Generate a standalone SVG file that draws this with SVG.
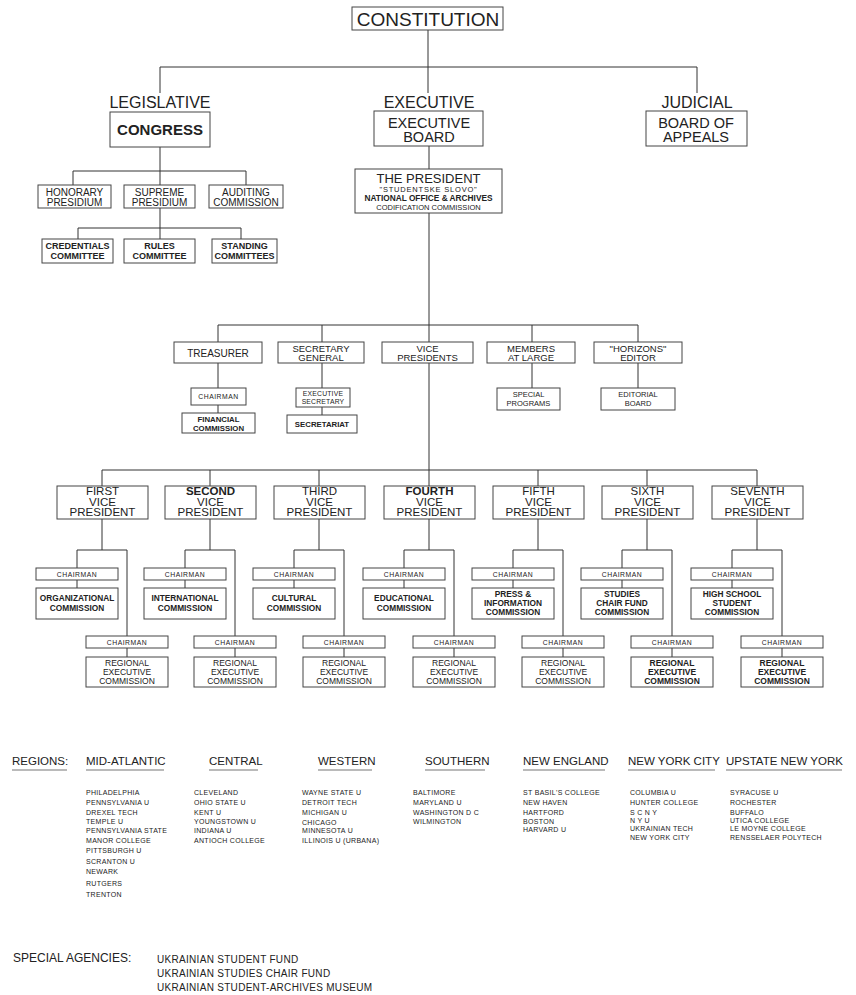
<svg xmlns="http://www.w3.org/2000/svg" width="856" height="995" viewBox="0 0 856 995">
<style>
text{font-family:"Liberation Sans",Arial,Helvetica,sans-serif;fill:#222;text-anchor:middle}
.b{fill:#fff;stroke:#444;stroke-width:1px}
.c{fill:none;stroke:#333;stroke-width:1px}
.lbl{font-size:16px}
.top{font-size:14.5px}
.m{font-size:10px}
.m2{font-size:9.5px}
.s{font-size:9px;font-weight:bold}
.ch{font-size:6.8px;letter-spacing:0.5px}
.sm{font-size:7.5px}
.smb{font-size:7.8px;font-weight:bold}
.vp{font-size:11.5px}
.cm{font-size:8.3px;font-weight:bold}
.rg{font-size:8.5px}
.hd{font-size:11.5px;text-anchor:start}
.li{font-size:7px;letter-spacing:0.3px;text-anchor:start}
.sa{font-size:10px;letter-spacing:0.3px;text-anchor:start}
.ul{stroke:#777;stroke-width:1.2px}
</style>
<rect width="856" height="995" fill="#fff"/>
<g id="connectors" class="c">
<path class="c" d="M428 30V93 M160 67H697 M160 67V93 M697 67V93
M160 147V171 M73 171H246 M73 171V185 M160 171V185 M246 171V185
M160 208V228 M78 228H241 M78 228V239 M160 228V239 M241 228V239
M429 146V169 M429 213V342 M218 325H638 M218 325V342 M322 325V342 M532 325V342 M638 325V342
M218 363V388 M218 405V413 M322 363V388 M322 407V415 M532 363V388 M638 363V388
M429 363V486 M102 470H757 M102 470V486 M210 470V486 M319 470V486 M538 470V486 M647 470V486 M757 470V486
M102 519V550 M77 550H127 M77 550V568 M77 580V588 M127 550V636 M127 648V657
M210 519V550 M185 550H235 M185 550V568 M185 580V588 M235 550V636 M235 648V657
M319 519V550 M294 550H344 M294 550V568 M294 580V588 M344 550V636 M344 648V657
M429 519V550 M404 550H454 M404 550V568 M404 580V588 M454 550V636 M454 648V657
M538 519V550 M513 550H563 M513 550V568 M513 580V588 M563 550V636 M563 648V657
M647 519V550 M622 550H672 M622 550V568 M622 580V588 M672 550V636 M672 648V657
M757 519V550 M732 550H782 M732 550V568 M732 580V588 M782 550V636 M782 648V657"/>
</g>

<g id="constitution"><rect class="b" x="352" y="7" width="151" height="23"/><text x="428" y="26" style="font-size:19px">CONSTITUTION</text></g>

<g id="legislative"><text class="lbl" x="160" y="108">LEGISLATIVE</text></g>
<g id="congress"><rect class="b" x="110" y="112" width="100" height="35"/><text x="160" y="135" style="font-size:15px;font-weight:bold">CONGRESS</text></g>
<g id="executive"><text class="lbl" x="429" y="108">EXECUTIVE</text></g>
<g id="executive-board"><rect class="b" x="374" y="111" width="109" height="35"/><text class="top" x="429" y="127.5">EXECUTIVE</text><text class="top" x="429" y="142">BOARD</text></g>
<g id="judicial"><text class="lbl" x="697" y="108">JUDICIAL</text></g>
<g id="board-of-appeals"><rect class="b" x="646" y="111" width="101" height="35"/><text class="top" x="696" y="127.5">BOARD OF</text><text class="top" x="696" y="142">APPEALS</text></g>

<g id="honorary-presidium"><rect class="b" x="38" y="185" width="73" height="23"/><text class="m" x="74.5" y="196">HONORARY</text><text class="m" x="74.5" y="206">PRESIDIUM</text></g>
<g id="supreme-presidium"><rect class="b" x="124" y="185" width="71" height="23"/><text class="m" x="159.5" y="196">SUPREME</text><text class="m" x="159.5" y="206">PRESIDIUM</text></g>
<g id="auditing-commission"><rect class="b" x="209" y="185" width="74" height="23"/><text class="m" x="246" y="196">AUDITING</text><text class="m" x="246" y="206">COMMISSION</text></g>

<g id="credentials-committee"><rect class="b" x="42" y="239" width="71" height="24"/><text class="s" x="77.5" y="249">CREDENTIALS</text><text class="s" x="77.5" y="259">COMMITTEE</text></g>
<g id="rules-committee"><rect class="b" x="124" y="239" width="71" height="24"/><text class="s" x="159.5" y="249">RULES</text><text class="s" x="159.5" y="259">COMMITTEE</text></g>
<g id="standing-committees"><rect class="b" x="212" y="239" width="65" height="24"/><text class="s" x="244.5" y="249">STANDING</text><text class="s" x="244.5" y="259">COMMITTEES</text></g>

<g id="president"><rect class="b" x="355" y="169" width="147" height="44"/>
<text x="428.5" y="183" style="font-size:13px">THE PRESIDENT</text>
<text x="428.5" y="192" style="font-size:7.5px;letter-spacing:0.8px">"STUDENTSKE SLOVO"</text>
<text x="428.5" y="201" style="font-size:8.3px;font-weight:bold">NATIONAL OFFICE &amp; ARCHIVES</text>
<text x="428.5" y="209.5" style="font-size:7.5px">CODIFICATION COMMISSION</text></g>

<g id="treasurer"><rect class="b" x="174" y="342" width="88" height="21"/><text class="m" x="218" y="357">TREASURER</text></g>
<g id="secretary-general"><rect class="b" x="278" y="342" width="86" height="21"/><text class="m2" x="321" y="351.5">SECRETARY</text><text class="m2" x="321" y="361">GENERAL</text></g>
<g id="vice-presidents"><rect class="b" x="382" y="342" width="91" height="21"/><text class="m2" x="427.5" y="351.5">VICE</text><text class="m2" x="427.5" y="361">PRESIDENTS</text></g>
<g id="members-at-large"><rect class="b" x="487" y="342" width="88" height="21"/><text class="m2" x="531" y="351.5">MEMBERS</text><text class="m2" x="531" y="361">AT LARGE</text></g>
<g id="horizons-editor"><rect class="b" x="594" y="342" width="88" height="21"/><text class="m2" x="638" y="351.5">"HORIZONS"</text><text class="m2" x="638" y="361">EDITOR</text></g>

<g id="treasurer-chairman"><rect class="b" x="191" y="388" width="55" height="17"/><text class="ch" x="218.5" y="399">CHAIRMAN</text></g>
<g id="financial-commission"><rect class="b" x="182" y="413" width="73" height="20"/><text class="smb" x="218.5" y="422">FINANCIAL</text><text class="smb" x="218.5" y="430.5">COMMISSION</text></g>
<g id="executive-secretary"><rect class="b" x="296" y="388" width="54" height="19"/><text class="ch" x="323" y="396" style="letter-spacing:0.2px">EXECUTIVE</text><text class="ch" x="323" y="404" style="letter-spacing:0.2px">SECRETARY</text></g>
<g id="secretariat"><rect class="b" x="287" y="415" width="70" height="18"/><text class="smb" x="322" y="427">SECRETARIAT</text></g>
<g id="special-programs"><rect class="b" x="497" y="388" width="63" height="22"/><text class="sm" x="528.5" y="397">SPECIAL</text><text class="sm" x="528.5" y="406">PROGRAMS</text></g>
<g id="editorial-board"><rect class="b" x="601" y="388" width="74" height="22"/><text class="sm" x="638" y="397">EDITORIAL</text><text class="sm" x="638" y="406">BOARD</text></g>

<g id="vp1"><rect class="b" x="57" y="486" width="91" height="33"/><text class="vp" x="102.5" y="495">FIRST</text><text class="vp" x="102.5" y="505.5">VICE</text><text class="vp" x="102.5" y="516">PRESIDENT</text></g>
<g id="vp2"><rect class="b" x="165" y="486" width="91" height="33"/><text class="vp" x="210.5" y="495" font-weight="bold">SECOND</text><text class="vp" x="210.5" y="505.5">VICE</text><text class="vp" x="210.5" y="516">PRESIDENT</text></g>
<g id="vp3"><rect class="b" x="274" y="486" width="91" height="33"/><text class="vp" x="319.5" y="495">THIRD</text><text class="vp" x="319.5" y="505.5">VICE</text><text class="vp" x="319.5" y="516">PRESIDENT</text></g>
<g id="vp4"><rect class="b" x="384" y="486" width="91" height="33"/><text class="vp" x="429.5" y="495" font-weight="bold">FOURTH</text><text class="vp" x="429.5" y="505.5">VICE</text><text class="vp" x="429.5" y="516">PRESIDENT</text></g>
<g id="vp5"><rect class="b" x="493" y="486" width="91" height="33"/><text class="vp" x="538.5" y="495">FIFTH</text><text class="vp" x="538.5" y="505.5">VICE</text><text class="vp" x="538.5" y="516">PRESIDENT</text></g>
<g id="vp6"><rect class="b" x="602" y="486" width="91" height="33"/><text class="vp" x="647.5" y="495">SIXTH</text><text class="vp" x="647.5" y="505.5">VICE</text><text class="vp" x="647.5" y="516">PRESIDENT</text></g>
<g id="vp7"><rect class="b" x="712" y="486" width="91" height="33"/><text class="vp" x="757.5" y="495">SEVENTH</text><text class="vp" x="757.5" y="505.5">VICE</text><text class="vp" x="757.5" y="516">PRESIDENT</text></g>

<g id="vp1-chairman"><rect class="b" x="36" y="568" width="82" height="12"/><text class="ch" x="77" y="577">CHAIRMAN</text></g>
<g id="vp2-chairman"><rect class="b" x="144" y="568" width="82" height="12"/><text class="ch" x="185" y="577">CHAIRMAN</text></g>
<g id="vp3-chairman"><rect class="b" x="253" y="568" width="82" height="12"/><text class="ch" x="294" y="577">CHAIRMAN</text></g>
<g id="vp4-chairman"><rect class="b" x="363" y="568" width="82" height="12"/><text class="ch" x="404" y="577">CHAIRMAN</text></g>
<g id="vp5-chairman"><rect class="b" x="472" y="568" width="82" height="12"/><text class="ch" x="513" y="577">CHAIRMAN</text></g>
<g id="vp6-chairman"><rect class="b" x="581" y="568" width="82" height="12"/><text class="ch" x="622" y="577">CHAIRMAN</text></g>
<g id="vp7-chairman"><rect class="b" x="691" y="568" width="82" height="12"/><text class="ch" x="732" y="577">CHAIRMAN</text></g>

<g id="organizational-commission"><rect class="b" x="36" y="588" width="82" height="31"/><text class="cm" x="77" y="601">ORGANIZATIONAL</text><text class="cm" x="77" y="611">COMMISSION</text></g>
<g id="international-commission"><rect class="b" x="144" y="588" width="82" height="31"/><text class="cm" x="185" y="601">INTERNATIONAL</text><text class="cm" x="185" y="611">COMMISSION</text></g>
<g id="cultural-commission"><rect class="b" x="253" y="588" width="82" height="31"/><text class="cm" x="294" y="601">CULTURAL</text><text class="cm" x="294" y="611">COMMISSION</text></g>
<g id="educational-commission"><rect class="b" x="363" y="588" width="82" height="31"/><text class="cm" x="404" y="601">EDUCATIONAL</text><text class="cm" x="404" y="611">COMMISSION</text></g>
<g id="press-information-commission"><rect class="b" x="472" y="588" width="82" height="31"/><text class="cm" x="513" y="597">PRESS &amp;</text><text class="cm" x="513" y="606">INFORMATION</text><text class="cm" x="513" y="615">COMMISSION</text></g>
<g id="studies-chair-fund-commission"><rect class="b" x="581" y="588" width="82" height="31"/><text class="cm" x="622" y="597">STUDIES</text><text class="cm" x="622" y="606">CHAIR FUND</text><text class="cm" x="622" y="615">COMMISSION</text></g>
<g id="high-school-student-commission"><rect class="b" x="691" y="588" width="82" height="31"/><text class="cm" x="732" y="597">HIGH SCHOOL</text><text class="cm" x="732" y="606">STUDENT</text><text class="cm" x="732" y="615">COMMISSION</text></g>

<g id="vp1-regional-chairman"><rect class="b" x="86" y="636" width="82" height="12"/><text class="ch" x="127" y="645">CHAIRMAN</text></g>
<g id="vp2-regional-chairman"><rect class="b" x="194" y="636" width="82" height="12"/><text class="ch" x="235" y="645">CHAIRMAN</text></g>
<g id="vp3-regional-chairman"><rect class="b" x="303" y="636" width="82" height="12"/><text class="ch" x="344" y="645">CHAIRMAN</text></g>
<g id="vp4-regional-chairman"><rect class="b" x="413" y="636" width="82" height="12"/><text class="ch" x="454" y="645">CHAIRMAN</text></g>
<g id="vp5-regional-chairman"><rect class="b" x="522" y="636" width="82" height="12"/><text class="ch" x="563" y="645">CHAIRMAN</text></g>
<g id="vp6-regional-chairman"><rect class="b" x="631" y="636" width="82" height="12"/><text class="ch" x="672" y="645">CHAIRMAN</text></g>
<g id="vp7-regional-chairman"><rect class="b" x="741" y="636" width="82" height="12"/><text class="ch" x="782" y="645">CHAIRMAN</text></g>

<g id="vp1-regional"><rect class="b" x="86" y="657" width="82" height="30"/><text class="rg" x="127" y="665.5">REGIONAL</text><text class="rg" x="127" y="674.5">EXECUTIVE</text><text class="rg" x="127" y="683.5">COMMISSION</text></g>
<g id="vp2-regional"><rect class="b" x="194" y="657" width="82" height="30"/><text class="rg" x="235" y="665.5">REGIONAL</text><text class="rg" x="235" y="674.5">EXECUTIVE</text><text class="rg" x="235" y="683.5">COMMISSION</text></g>
<g id="vp3-regional"><rect class="b" x="303" y="657" width="82" height="30"/><text class="rg" x="344" y="665.5">REGIONAL</text><text class="rg" x="344" y="674.5">EXECUTIVE</text><text class="rg" x="344" y="683.5">COMMISSION</text></g>
<g id="vp4-regional"><rect class="b" x="413" y="657" width="82" height="30"/><text class="rg" x="454" y="665.5">REGIONAL</text><text class="rg" x="454" y="674.5">EXECUTIVE</text><text class="rg" x="454" y="683.5">COMMISSION</text></g>
<g id="vp5-regional"><rect class="b" x="522" y="657" width="82" height="30"/><text class="rg" x="563" y="665.5">REGIONAL</text><text class="rg" x="563" y="674.5">EXECUTIVE</text><text class="rg" x="563" y="683.5">COMMISSION</text></g>
<g id="vp6-regional"><rect class="b" x="631" y="657" width="82" height="30"/><text class="rg" x="672" y="665.5" font-weight="bold">REGIONAL</text><text class="rg" x="672" y="674.5" font-weight="bold">EXECUTIVE</text><text class="rg" x="672" y="683.5" font-weight="bold">COMMISSION</text></g>
<g id="vp7-regional"><rect class="b" x="741" y="657" width="82" height="30"/><text class="rg" x="782" y="665.5" font-weight="bold">REGIONAL</text><text class="rg" x="782" y="674.5" font-weight="bold">EXECUTIVE</text><text class="rg" x="782" y="683.5" font-weight="bold">COMMISSION</text></g>

<g id="regions">
<text class="hd" x="12" y="765">REGIONS:</text>
<text class="hd" x="86" y="765">MID-ATLANTIC</text>
<text class="hd" x="209" y="765">CENTRAL</text>
<text class="hd" x="318" y="765">WESTERN</text>
<text class="hd" x="425" y="765">SOUTHERN</text>
<text class="hd" x="523" y="765">NEW ENGLAND</text>
<text class="hd" x="628" y="765">NEW YORK CITY</text>
<text class="hd" x="726" y="765">UPSTATE NEW YORK</text>
<path class="ul" d="M12 770H67 M86 770H164 M209 770H258 M318 770H372 M425 770H485 M523 770H605 M628 770H715 M726 770H842"/>

<text class="li" x="86" y="795">PHILADELPHIA</text>
<text class="li" x="86" y="805">PENNSYLVANIA U</text>
<text class="li" x="86" y="815">DREXEL TECH</text>
<text class="li" x="86" y="823.5">TEMPLE U</text>
<text class="li" x="86" y="833">PENNSYLVANIA STATE</text>
<text class="li" x="86" y="843">MANOR COLLEGE</text>
<text class="li" x="86" y="853">PITTSBURGH U</text>
<text class="li" x="86" y="863.5">SCRANTON U</text>
<text class="li" x="86" y="874">NEWARK</text>
<text class="li" x="86" y="885.5">RUTGERS</text>
<text class="li" x="86" y="897">TRENTON</text>

<text class="li" x="194" y="795">CLEVELAND</text>
<text class="li" x="194" y="805">OHIO STATE U</text>
<text class="li" x="194" y="815">KENT U</text>
<text class="li" x="194" y="823.5">YOUNGSTOWN U</text>
<text class="li" x="194" y="832.5">INDIANA U</text>
<text class="li" x="194" y="843">ANTIOCH COLLEGE</text>

<text class="li" x="302" y="795">WAYNE STATE U</text>
<text class="li" x="302" y="805">DETROIT TECH</text>
<text class="li" x="302" y="815">MICHIGAN U</text>
<text class="li" x="302" y="825">CHICAGO</text>
<text class="li" x="302" y="833">MINNESOTA U</text>
<text class="li" x="302" y="843">ILLINOIS U (URBANA)</text>

<text class="li" x="413" y="795">BALTIMORE</text>
<text class="li" x="413" y="805">MARYLAND U</text>
<text class="li" x="413" y="815">WASHINGTON D C</text>
<text class="li" x="413" y="823.5">WILMINGTON</text>

<text class="li" x="523" y="795">ST BASIL'S COLLEGE</text>
<text class="li" x="523" y="805">NEW HAVEN</text>
<text class="li" x="523" y="815">HARTFORD</text>
<text class="li" x="523" y="823.5">BOSTON</text>
<text class="li" x="523" y="831.5">HARVARD U</text>

<text class="li" x="630" y="795">COLUMBIA U</text>
<text class="li" x="630" y="805">HUNTER COLLEGE</text>
<text class="li" x="630" y="815">S C N Y</text>
<text class="li" x="630" y="823">N Y U</text>
<text class="li" x="630" y="831">UKRAINIAN TECH</text>
<text class="li" x="630" y="840">NEW YORK CITY</text>

<text class="li" x="730" y="795">SYRACUSE U</text>
<text class="li" x="730" y="805">ROCHESTER</text>
<text class="li" x="730" y="814.5">BUFFALO</text>
<text class="li" x="730" y="823">UTICA COLLEGE</text>
<text class="li" x="730" y="831">LE MOYNE COLLEGE</text>
<text class="li" x="730" y="840">RENSSELAER POLYTECH</text>
</g>

<g id="special-agencies">
<text class="hd" x="13" y="962" style="font-size:12px">SPECIAL AGENCIES:</text>
<text class="sa" x="157" y="963">UKRAINIAN STUDENT FUND</text>
<text class="sa" x="157" y="977">UKRAINIAN STUDIES CHAIR FUND</text>
<text class="sa" x="157" y="990.5">UKRAINIAN STUDENT-ARCHIVES MUSEUM</text>
</g>
</svg>
